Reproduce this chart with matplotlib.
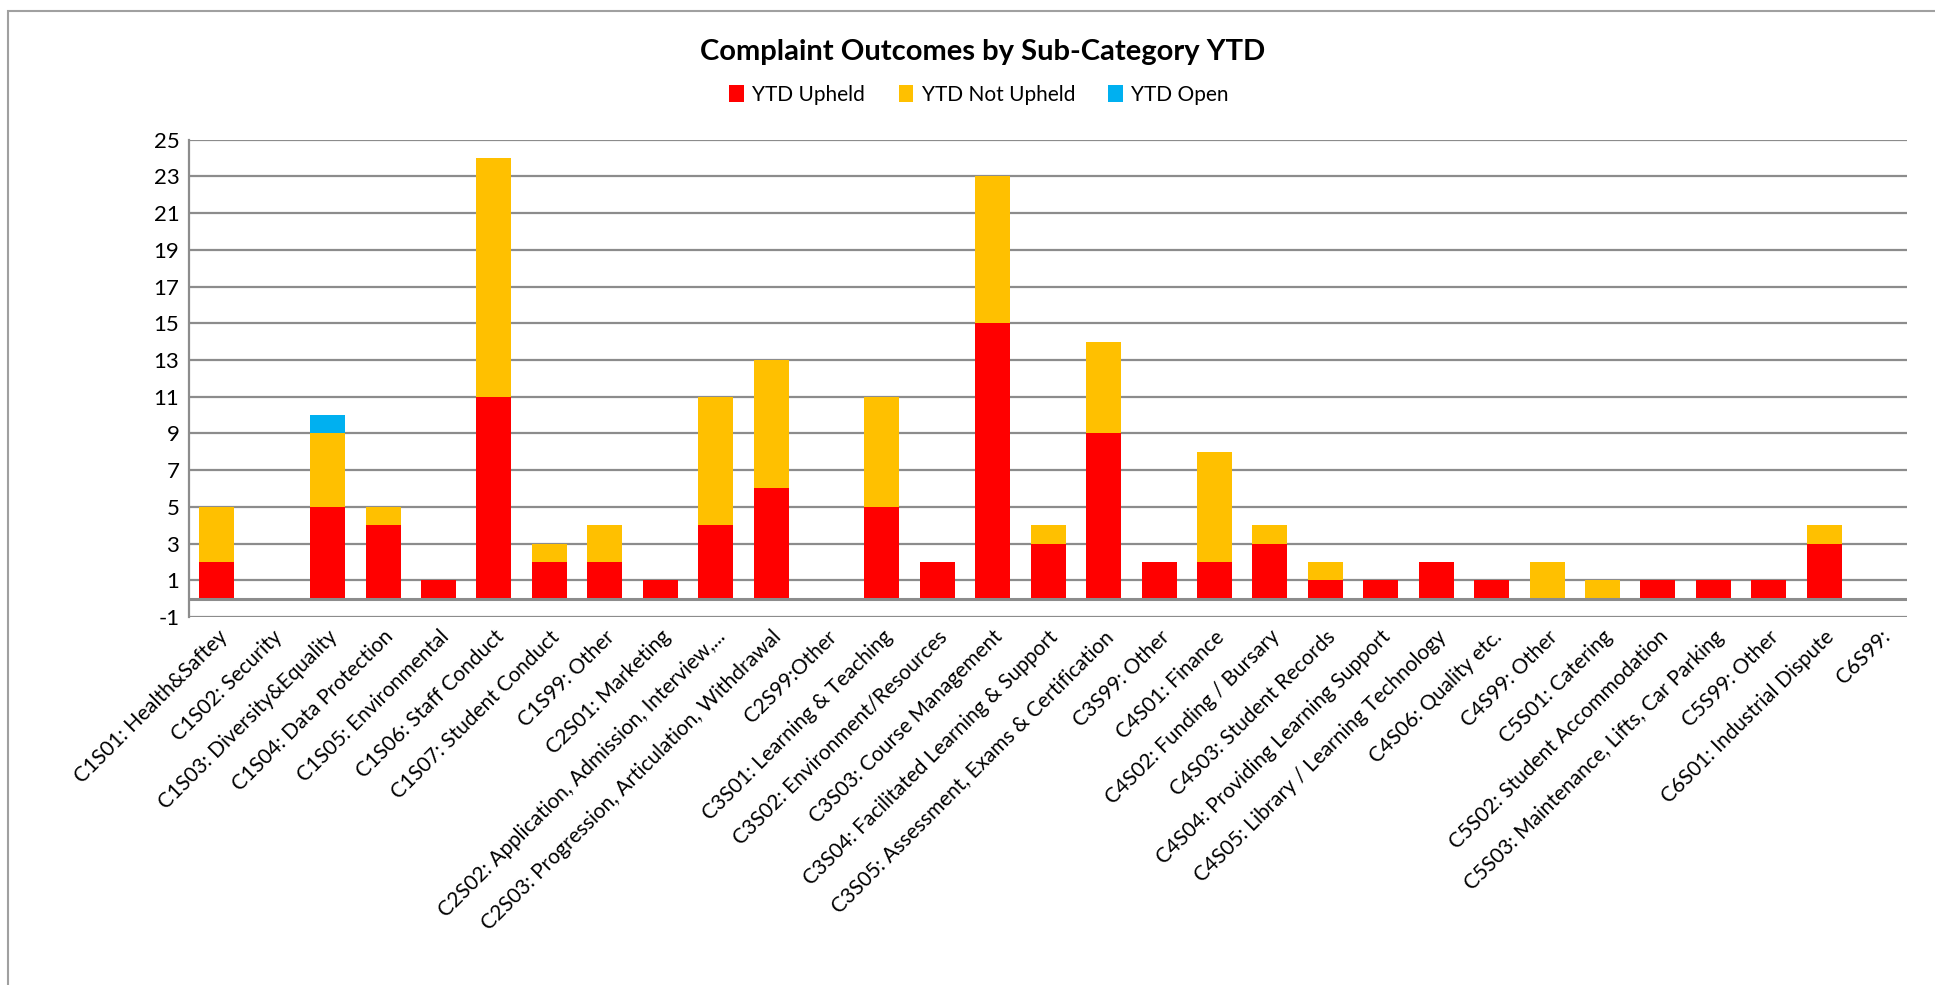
import numpy as np
import matplotlib
matplotlib.use("Agg")
import matplotlib.pyplot as plt
from matplotlib.patches import Rectangle

plt.rcParams['font.family'] = ['Lato', 'DejaVu Sans']

# data
categories = [
    "C1S01: Health&Saftey", "C1S02: Security", "C1S03: Diversity&Equality",
    "C1S04: Data Protection", "C1S05: Environmental", "C1S06: Staff Conduct",
    "C1S07: Student Conduct", "C1S99: Other", "C2S01: Marketing",
    "C2S02: Application, Admission, Interview,...",
    "C2S03: Progression, Articulation, Withdrawal", "C2S99:Other",
    "C3S01: Learning & Teaching", "C3S02: Environment/Resources",
    "C3S03: Course Management", "C3S04: Facilitated Learning & Support",
    "C3S05: Assessment, Exams & Certification", "C3S99: Other",
    "C4S01: Finance", "C4S02: Funding / Bursary", "C4S03: Student Records",
    "C4S04: Providing Learning Support", "C4S05: Library / Learning Technology",
    "C4S06: Quality etc.", "C4S99: Other", "C5S01: Catering",
    "C5S02: Student Accommodation", "C5S03: Maintenance, Lifts, Car Parking",
    "C5S99: Other", "C6S01: Industrial Dispute", "C6S99:",
]
upheld = [2, 0, 5, 4, 1, 11, 2, 2, 1, 4, 6, 0, 5, 2, 15, 3, 9, 2, 2, 3, 1, 1, 2, 1, 0, 0, 1, 1, 1, 3, 0]
not_upheld = [3, 0, 4, 1, 0, 13, 1, 2, 0, 7, 7, 0, 6, 0, 8, 1, 5, 0, 6, 1, 1, 0, 0, 0, 2, 1, 0, 0, 0, 1, 0]
open_ = [0, 0, 1, 0, 0, 0, 0, 0, 0, 0, 0, 0, 0, 0, 0, 0, 0, 0, 0, 0, 0, 0, 0, 0, 0, 0, 0, 0, 0, 0, 0]
yticks = list(range(-1, 26, 2))

grid_col = '#8c8c8c'

fig = plt.figure(figsize=(19.35, 9.85), dpi=100)
ax = fig.add_axes([0.0977, 0.3736, 0.888, 0.4846])

x = np.arange(len(categories))
up = np.array(upheld)
nu = np.array(not_upheld)
op = np.array(open_)
w = 0.63
ax.bar(x, up, w, color='#FF0000', label='YTD Upheld', zorder=3)
ax.bar(x, nu, w, bottom=up, color='#FFC000', label='YTD Not Upheld', zorder=3)
ax.bar(x, op, w, bottom=up + nu, color='#00B0F0', label='YTD Open', zorder=3)

ax.set_xlim(-0.5, len(categories) - 0.5)
ax.set_ylim(-1, 25)
ax.set_yticks(yticks)
ax.set_yticklabels([str(t) for t in yticks], fontsize=16)
for t in yticks:
    ax.axhline(t, color=grid_col, lw=1.6, zorder=1)
ax.axhline(0, color=grid_col, lw=2.2, zorder=4)

ax.set_xticks(x)
ax.set_xticklabels(categories, rotation=45, ha='right', rotation_mode='anchor', fontsize=15)
ax.tick_params(axis='both', length=0, pad=7)
for s in ['top', 'right', 'bottom']:
    ax.spines[s].set_visible(False)
ax.spines['left'].set_color(grid_col)
ax.spines['left'].set_linewidth(1.6)

fig.text(0.508, 0.947, 'Complaint Outcomes by Sub-Category YTD', ha='center', va='center',
         fontsize=21, fontweight='bold')
fig.legend(loc='center', bbox_to_anchor=(0.506, 0.904), ncol=3, frameon=False,
           fontsize=15, handlelength=0.7, handleheight=0.9, columnspacing=1.6, handletextpad=0.4)

fig.patches.append(Rectangle((0.004, -0.01), 1.0, 0.999, transform=fig.transFigure,
                             fill=False, edgecolor='#a0a0a0', lw=1.5))

fig.savefig('out.png', dpi=100, facecolor='white')
